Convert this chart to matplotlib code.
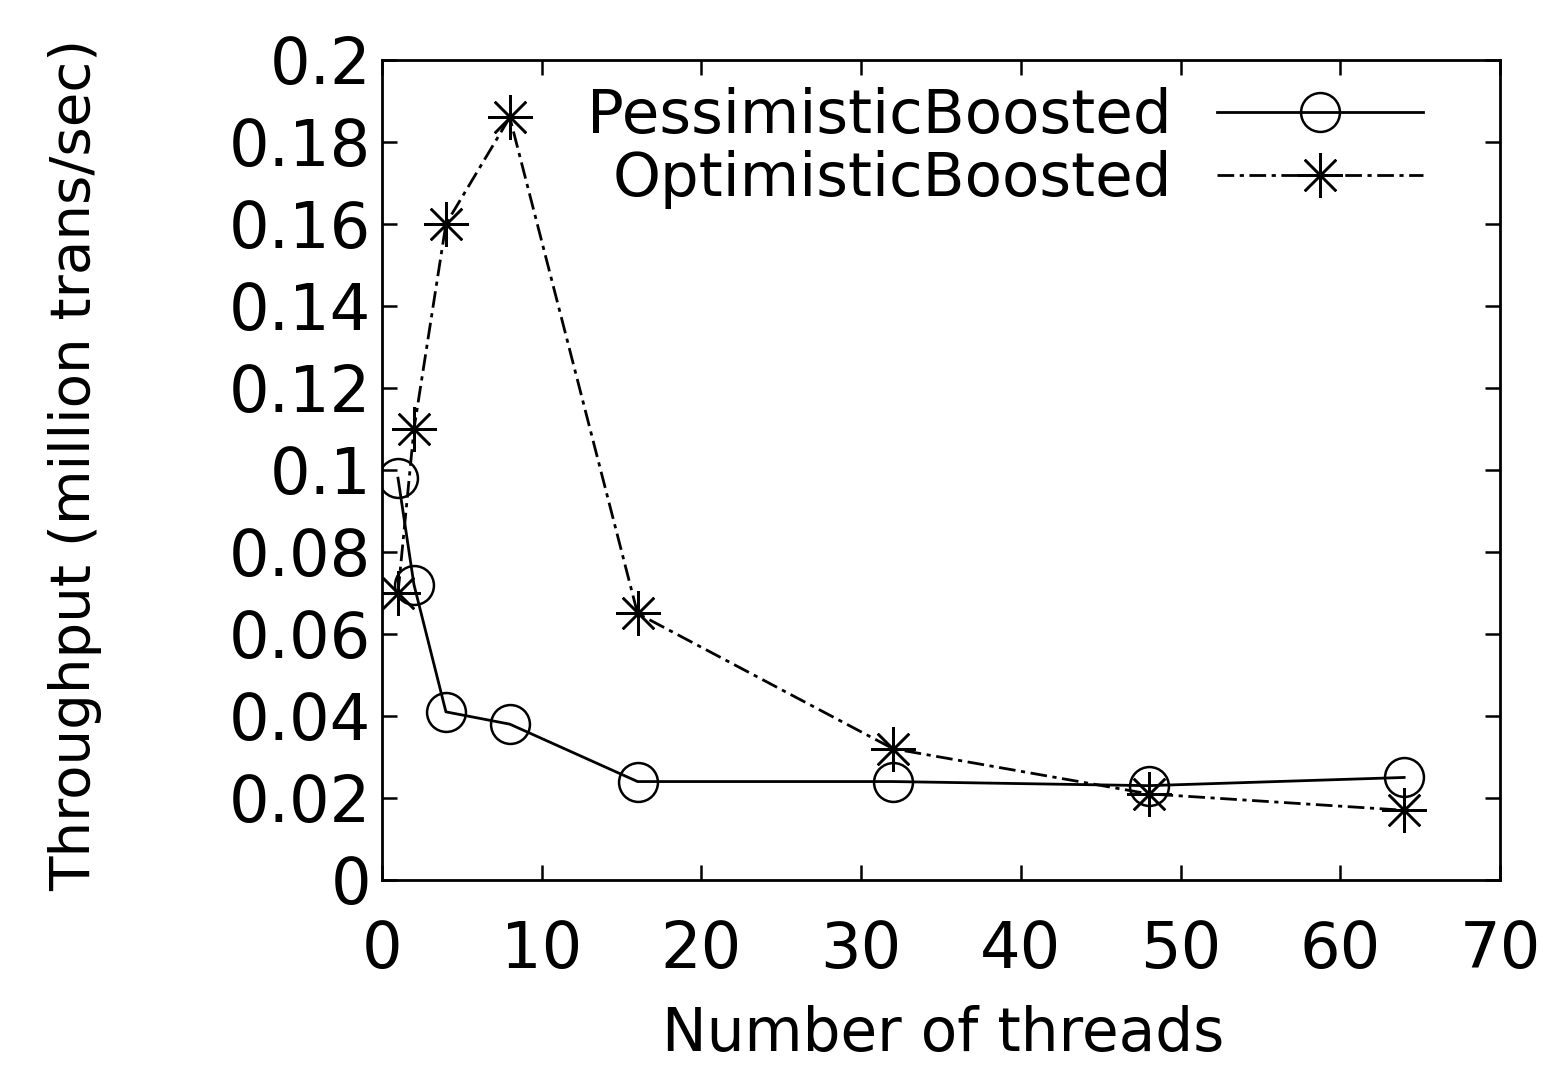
import matplotlib.pyplot as plt
import numpy as np

# thread counts
threads = [1, 2, 4, 8, 16, 32, 48, 64]

# throughput (million trans/sec)
pessimistic = [0.098, 0.072, 0.041, 0.038, 0.024, 0.024, 0.023, 0.025]
optimistic = [0.070, 0.110, 0.160, 0.186, 0.065, 0.032, 0.021, 0.017]

plt.rcParams['font.family'] = ['DejaVu Sans']

fig = plt.figure(figsize=(15.43, 10.67), dpi=100)
ax = fig.add_axes([0.2476, 0.1753, 0.7245, 0.7685])

ax.plot(threads, pessimistic, color='black', linewidth=2, linestyle='-',
        marker='o', markersize=28, markerfacecolor='none', markeredgewidth=1.8,
        label='PessimisticBoosted')
ax.plot(threads, optimistic, color='black', linewidth=2,
        linestyle=(0, (6, 2, 1.5, 2)),
        marker=(8, 2, 0), markersize=32, markeredgewidth=1.8,
        label='OptimisticBoosted')

ax.set_xlim(0, 70)
ax.set_ylim(0, 0.2)
ax.set_xticks(np.arange(0, 71, 10))
ax.set_yticks(np.arange(0, 0.201, 0.02))
ax.set_yticklabels(['0', '0.02', '0.04', '0.06', '0.08', '0.1', '0.12',
                    '0.14', '0.16', '0.18', '0.2'])

ax.tick_params(direction='in', length=11, width=1.8, top=True, right=True,
               labelsize=46)
ax.tick_params(axis='x', pad=28)
ax.tick_params(axis='y', pad=8)
for s in ax.spines.values():
    s.set_linewidth(2)

ax.set_xlabel('Number of threads', fontsize=43)
ax.set_ylabel('Throughput (million trans/sec)', fontsize=40.5)
ax.xaxis.set_label_coords(0.502, -0.153)
ax.yaxis.set_label_coords(-0.25, 0.506)

leg = ax.legend(loc='upper right', bbox_to_anchor=(0.931, 0.967),
                frameon=False, markerfirst=False, fontsize=44,
                handlelength=3.37, borderaxespad=0, borderpad=0,
                labelspacing=0.07, handletextpad=0.74)

fig.savefig('out.png', dpi=100)
